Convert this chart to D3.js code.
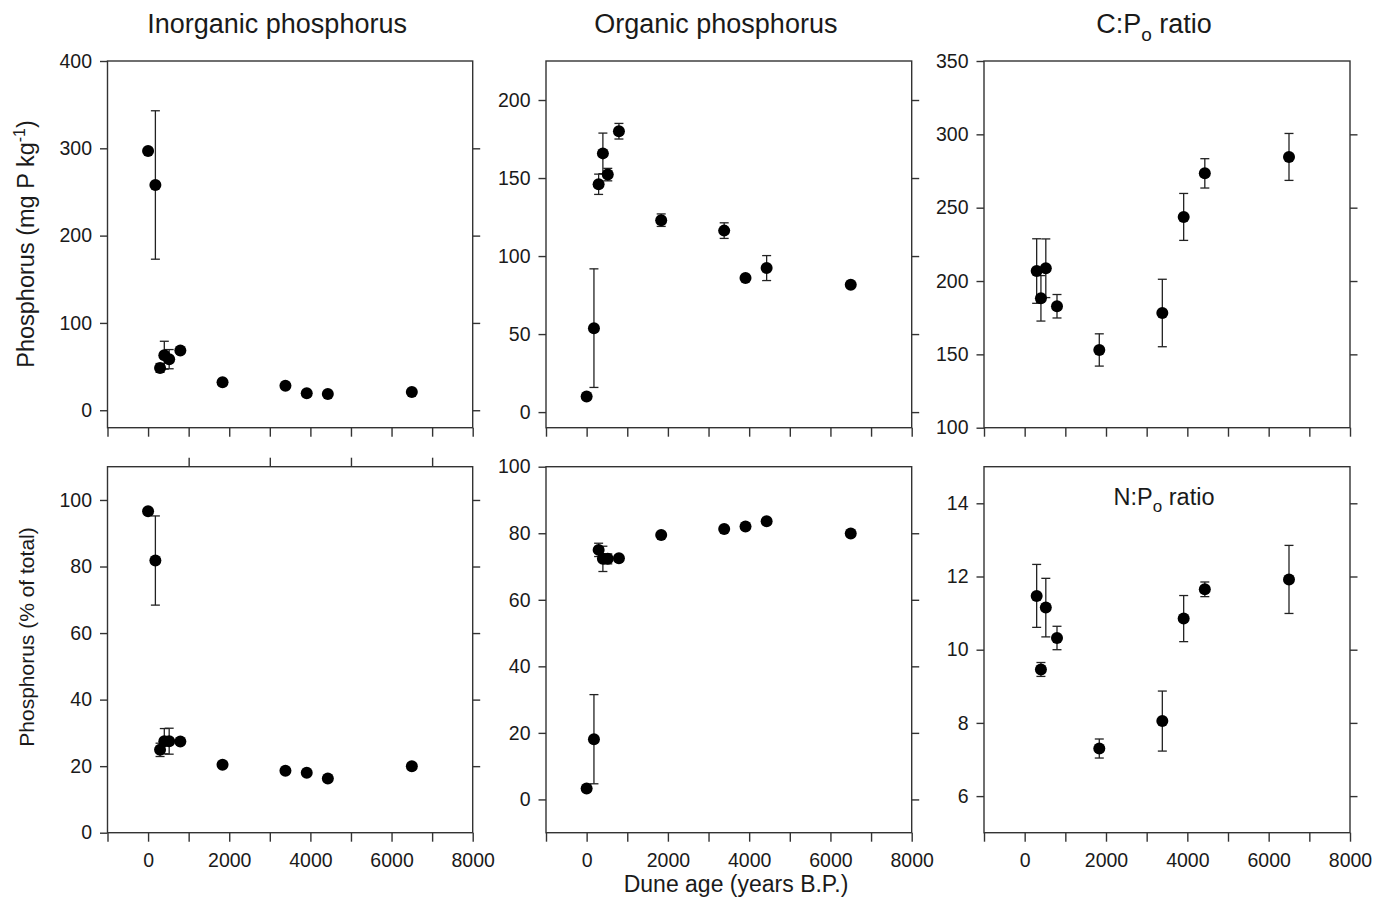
<!DOCTYPE html>
<html><head><meta charset="utf-8">
<script src="https://cdn.jsdelivr.net/npm/d3@7"></script>
<style>
body{margin:0;background:#fff}
svg text{font-family:"Liberation Sans",Arial,Helvetica,sans-serif;fill:#1a1a1a}
</style>
</head><body>
<svg id="c" width="1373" height="899"></svg>
<script>
// ---- data ----
const ages = [0, 180, 295, 400, 520, 795, 1835, 3385, 3910, 4430, 6500];

const inorgMg     = [297, 258, 48.5, 63, 58.5, 68.4, 32, 28, 19.5, 18.7, 21];
const inorgMgErr  = [0, 85, 5, 16, 11, 0, 0, 0, 0, 0, 0];

const orgMg       = [10, 53.8, 146, 165.8, 152.2, 180, 123, 116.3, 86, 92.3, 81.6];
const orgMgErr    = [0, 38, 6.5, 13, 4, 5, 4, 5, 0, 8, 0];

const cpo         = [null, null, 206.8, 188.2, 208.7, 182.8, 153, 178.2, 243.7, 273.4, 284.6];
const cpoErr      = [null, null, 22, 15.5, 20, 8, 11, 23, 16, 10, 16];

const inorgPct    = [96.6, 81.8, 24.9, 27.5, 27.5, 27.4, 20.4, 18.6, 18, 16.3, 20];
const inorgPctErr = [0, 13.4, 2, 3.8, 3.9, 0, 0, 0, 0, 0, 0];

const orgPct      = [3.3, 18.1, 75, 72.3, 72.3, 72.5, 79.5, 81.3, 82, 83.6, 79.9];
const orgPctErr   = [0, 13.4, 2, 3.8, 1.5, 0, 0, 0, 0, 0, 0];

const npo         = [null, null, 11.47, 9.46, 11.15, 10.32, 7.3, 8.05, 10.85, 11.65, 11.92];
const npoErr      = [null, null, 0.86, 0.19, 0.8, 0.32, 0.26, 0.82, 0.63, 0.2, 0.93];

const xDomain = [-1000, 8000];
const xTicks = [-1000, 0, 1000, 2000, 3000, 4000, 5000, 6000, 7000, 8000];
const xLabelTicks = [0, 2000, 4000, 6000, 8000];

const colTitles = ["Inorganic phosphorus", "Organic phosphorus"];

// ---- layout ----
const cols = [[107.5, 472.7], [546, 911.7], [984, 1350]];
const rows = [[61, 427.7], [466.7, 832.7]];

const svg = d3.select("#c");

function panel(col, row, yDomain, leftTicks, rightTicks, vals, errs, opts = {}) {
  const [L, R] = cols[col];
  const [T, B] = rows[row];
  const x = d3.scaleLinear().domain(xDomain).range([L, R]);
  const y = d3.scaleLinear().domain(yDomain).range([B, T]);
  const g = svg.append("g");

  const bx = g.append("g").attr("transform", `translate(0,${B})`)
    .call(d3.axisBottom(x).tickValues(xTicks).tickSize(9).tickPadding(11)
      .tickFormat(d => (row === 1 && xLabelTicks.includes(d)) ? d : ""));
  const ly = g.append("g").attr("transform", `translate(${L},0)`)
    .call(d3.axisLeft(y).tickValues(leftTicks).tickSize(7.5).tickPadding(8));
  const ry = g.append("g").attr("transform", `translate(${R},0)`)
    .call(d3.axisRight(y).tickValues(rightTicks).tickSize(7.5).tickFormat(""));
  const axes = [bx, ly, ry];
  if (opts.topTicks) {
    const tx = g.append("g").attr("transform", `translate(0,${T})`)
      .call(d3.axisTop(x).tickValues(opts.topTicks).tickSize(9).tickFormat(""));
    axes.push(tx);
  }
  axes.forEach(a => {
    a.select(".domain").remove();
    a.selectAll("line").attr("stroke", "#333").attr("stroke-width", 1.4);
    a.selectAll("text").attr("font-size", 19.5).attr("fill", "#1a1a1a")
      .style("font-family", '"Liberation Sans", Arial, sans-serif');
  });

  g.append("rect").attr("x", L).attr("y", T).attr("width", R - L).attr("height", B - T)
    .attr("fill", "none").attr("stroke", "#333").attr("stroke-width", 1.4);

  const pts = ages.map((a, i) => ({a, v: vals[i], e: errs[i]})).filter(d => d.v != null);

  const eb = g.append("g").attr("stroke", "#222").attr("stroke-width", 1.3);
  pts.filter(d => d.e > 0).forEach(d => {
    const cx = x(d.a), y1 = y(d.v - d.e), y2 = y(d.v + d.e);
    eb.append("line").attr("x1", cx).attr("x2", cx).attr("y1", y1).attr("y2", y2);
    eb.append("line").attr("x1", cx - 4.5).attr("x2", cx + 4.5).attr("y1", y1).attr("y2", y1);
    eb.append("line").attr("x1", cx - 4.5).attr("x2", cx + 4.5).attr("y1", y2).attr("y2", y2);
  });

  g.append("g").selectAll("circle").data(pts).join("circle")
    .attr("cx", d => x(d.a)).attr("cy", d => y(d.v)).attr("r", 6).attr("fill", "#000");
  return {x, y};
}

panel(0, 0, [-20, 400], [0, 100, 200, 300, 400], [0, 100, 200, 300], inorgMg, inorgMgErr);
panel(1, 0, [-10, 225], [0, 50, 100, 150, 200], [0, 50, 100, 150, 200], orgMg, orgMgErr);
panel(2, 0, [100, 350], [100, 150, 200, 250, 300, 350], [150, 200, 250, 300], cpo, cpoErr);
panel(0, 1, [0, 110], [0, 20, 40, 60, 80, 100], [20, 40, 60, 80, 100], inorgPct, inorgPctErr,
      {topTicks: [1000, 3000, 5000, 7000]});
panel(1, 1, [-10, 100], [0, 20, 40, 60, 80, 100], [0, 20, 40, 60, 80], orgPct, orgPctErr);
panel(2, 1, [5, 15], [6, 8, 10, 12, 14], [6, 8, 10, 12, 14], npo, npoErr);

// ---- titles ----
colTitles.forEach((t, i) => {
  svg.append("text").attr("x", (cols[i][0] + cols[i][1]) / 2 - 13).attr("y", 33)
    .attr("text-anchor", "middle").attr("font-size", 27).text(t);
});
const ct = svg.append("text").attr("x", (cols[2][0] + cols[2][1]) / 2 - 13).attr("y", 33)
  .attr("text-anchor", "middle").attr("font-size", 27);
ct.append("tspan").text("C:P");
ct.append("tspan").attr("font-size", 19).attr("dy", 8).text("o");
ct.append("tspan").attr("dy", -8).text(" ratio");

const nt = svg.append("text").attr("x", 1164).attr("y", 505)
  .attr("text-anchor", "middle").attr("font-size", 23.5);
nt.append("tspan").text("N:P");
nt.append("tspan").attr("font-size", 17).attr("dy", 7).text("o");
nt.append("tspan").attr("dy", -7).text(" ratio");

// ---- axis titles ----
const yl1 = svg.append("text").attr("transform", "translate(34,244) rotate(-90)")
  .attr("text-anchor", "middle").attr("font-size", 23.5);
yl1.append("tspan").text("Phosphorus (mg P kg");
yl1.append("tspan").attr("font-size", 16).attr("dy", -9).text("-1");
yl1.append("tspan").attr("dy", 9).text(")");

svg.append("text").attr("transform", "translate(34,637) rotate(-90)")
  .attr("text-anchor", "middle").attr("font-size", 21).text("Phosphorus (% of total)");

svg.append("text").attr("x", 736).attr("y", 892).attr("text-anchor", "middle")
  .attr("font-size", 23).text("Dune age (years B.P.)");
</script>
</body></html>
